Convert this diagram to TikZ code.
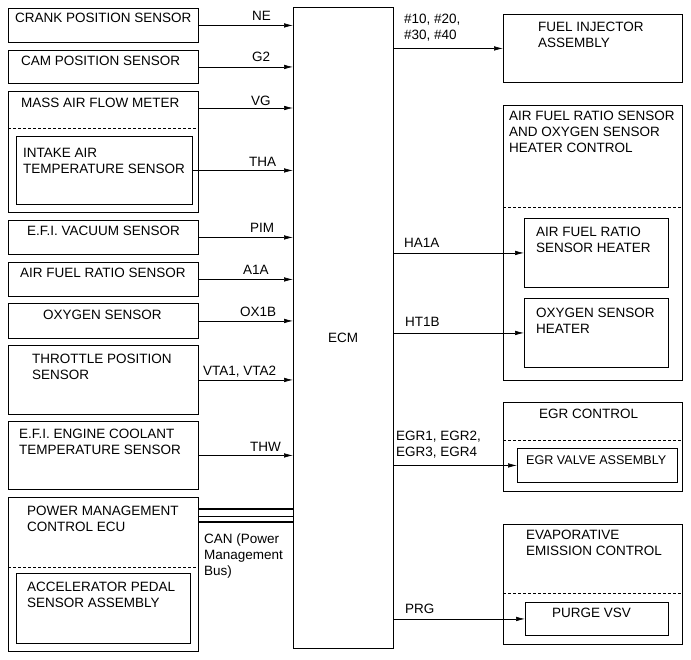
\documentclass[tikz,border=0pt]{standalone}
\usepackage{fontspec}
\setmainfont{Liberation Sans}
\usetikzlibrary{arrows.meta}
\newcommand{\ecmfont}{\fontsize{13.5}{16}\selectfont}

\begin{document}
\begin{tikzpicture}[x=1pt, y=-1pt,
    box/.style={draw, line width=0.9pt, inner sep=0pt, anchor=north west},
    txt/.style={font=\ecmfont, inner sep=0pt, anchor=base west, align=left},
    sig/.style={line width=0.6pt, -{Latex[length=9pt,width=4.5pt]}},
    sepline/.style={line width=0.7pt, dash pattern=on 3pt off 2pt},
    canbus/.style={line width=2.6pt}]
  \useasboundingbox (0,0) rectangle (691,660);
  % inputs (left column)
  \node[box, minimum width=190pt, minimum height=34pt] (crank) at (8,8) {};
  \node[box, minimum width=190pt, minimum height=33pt] (cam) at (8,50) {};
  \node[box, minimum width=190pt, minimum height=121pt] (maf) at (8,91) {};
  \node[box, minimum width=176pt, minimum height=68pt] (tha) at (16,136) {};
  \node[box, minimum width=190pt, minimum height=34pt] (vac) at (8,220) {};
  \node[box, minimum width=190pt, minimum height=34pt] (afs) at (8,262) {};
  \node[box, minimum width=190pt, minimum height=35pt] (oxs) at (8,303) {};
  \node[box, minimum width=190pt, minimum height=69pt] (tps) at (8,345) {};
  \node[box, minimum width=190pt, minimum height=68pt] (ect) at (8,421) {};
  \node[box, minimum width=190pt, minimum height=154pt] (pwr) at (8,497) {};
  \node[box, minimum width=174pt, minimum height=70pt] (app) at (16,573) {};
  \draw[sepline] (maf.west |- 0,128) -- (maf.east |- 0,128);
  \draw[sepline] (pwr.west |- 0,567) -- (pwr.east |- 0,567);
  % multi-line texts: base = last line
  \node[txt] (crank-t) at (15,23) {CRANK POSITION SENSOR};
  \node[txt] (cam-t) at (21,66) {CAM POSITION SENSOR};
  \node[txt] (maf-t) at (21,108) {MASS AIR FLOW METER};
  \node[txt] (tha-t) at (23,174) {INTAKE AIR\\TEMPERATURE SENSOR};
  \node[txt] (vac-t) at (27,236) {E.F.I. VACUUM SENSOR};
  \node[txt] (afs-t) at (20,278) {AIR FUEL RATIO SENSOR};
  \node[txt] (oxs-t) at (43,320) {OXYGEN SENSOR};
  \node[txt] (tps-t) at (32,379) {THROTTLE POSITION\\SENSOR};
  \node[txt] (ect-t) at (19,454) {E.F.I. ENGINE COOLANT\\TEMPERATURE SENSOR};
  \node[txt] (pwr-t) at (27,531) {POWER MANAGEMENT\\CONTROL ECU};
  \node[txt] (app-t) at (27,607) {ACCELERATOR PEDAL\\SENSOR ASSEMBLY};

  % ECM
  \node[box, minimum width=100pt, minimum height=641pt] (ecm) at (293,7) {};
  \node[font=\ecmfont, inner sep=0pt, anchor=base] (ecm-t) at (343,343) {ECM};

  % outputs (right column)
  \node[box, minimum width=179pt, minimum height=68pt] (inj) at (503,14) {};
  \node[box, minimum width=179pt, minimum height=275pt] (afc) at (503,105) {};
  \node[box, minimum width=144pt, minimum height=69pt] (afh) at (524,218) {};
  \node[box, minimum width=144pt, minimum height=69pt] (o2h) at (524,298) {};
  \node[box, minimum width=179pt, minimum height=89pt] (egr) at (503,402) {};
  \node[box, minimum width=160pt, minimum height=34pt] (egv) at (517,448) {};
  \node[box, minimum width=179pt, minimum height=120pt] (evp) at (503,524) {};
  \node[box, minimum width=143pt, minimum height=33pt] (prg) at (525,602) {};
  \draw[sepline] (afc.west |- 0,207) -- (afc.east |- 0,207);
  \draw[sepline] (egr.west |- 0,440) -- (egr.east |- 0,440);
  \draw[sepline] (evp.west |- 0,593) -- (evp.east |- 0,593);
  \node[txt] (inj-t) at (538,48) {FUEL INJECTOR\\ASSEMBLY};
  \node[txt] (afc-t) at (509,153) {AIR FUEL RATIO SENSOR\\AND OXYGEN SENSOR\\HEATER CONTROL};
  \node[txt] (afh-t) at (536,253) {AIR FUEL RATIO\\SENSOR HEATER};
  \node[txt] (o2h-t) at (536,334) {OXYGEN SENSOR\\HEATER};
  \node[txt] (egr-t) at (539,418) {EGR CONTROL};
  \node[txt, font=\fontsize{12.6}{16}\selectfont] (egv-t) at (526,464) {EGR VALVE ASSEMBLY};
  \node[txt] (evp-t) at (526,555) {EVAPORATIVE\\EMISSION CONTROL};
  \node[txt] (prg-t) at (552,617) {PURGE VSV};

  % signals into ECM
  \draw[sig] (crank.east) -- (crank.east -| ecm.west);
  \draw[sig] (cam.east) -- (cam.east -| ecm.west);
  \draw[sig] (maf.east |- 0,108) -- (ecm.west |- 0,108);
  \draw[sig] (tha.east) -- (tha.east -| ecm.west);
  \draw[sig] (vac.east) -- (vac.east -| ecm.west);
  \draw[sig] (afs.east) -- (afs.east -| ecm.west);
  \draw[sig] (oxs.east) -- (oxs.east -| ecm.west);
  \draw[sig] (tps.east) -- (tps.east -| ecm.west);
  \draw[sig] (ect.east) -- (ect.east -| ecm.west);
  \node[txt] (ne) at (252,21) {NE};
  \node[txt] (g2) at (252,62) {G2};
  \node[txt] (vg) at (251,106) {VG};
  \node[txt] (thai) at (249,167) {THA};
  \node[txt] (pim) at (250,233) {PIM};
  \node[txt] (a1a) at (243,275) {A1A};
  \node[txt] (ox1b) at (240,317) {OX1B};
  \node[txt] (vta) at (203,375) {VTA1, VTA2};
  \node[txt] (thw) at (250,451) {THW};

  % CAN bus
  \draw[canbus] (pwr.east |- 0,509) -- (ecm.west |- 0,509);
  \draw[line width=0.8pt] (pwr.east |- 0,516) -- (ecm.west |- 0,516);
  \draw[canbus] (pwr.east |- 0,522) -- (ecm.west |- 0,522);
  \node[txt] (can) at (204,575) {CAN (Power\\Management\\Bus)};

  % signals out of ECM
  \draw[sig] (ecm.east |- inj.west) -- (inj.west);
  \draw[sig] (ecm.east |- afh.west) -- (afh.west);
  \draw[sig] (ecm.east |- o2h.west) -- (o2h.west);
  \draw[sig] (ecm.east |- egv.west) -- (egv.west);
  \draw[sig] (ecm.east |- prg.west) -- (prg.west);
  \node[txt] (inj-s) at (404,40) {\#10, \#20,\\\#30, \#40};
  \node[txt] (ha1a) at (404,248) {HA1A};
  \node[txt] (ht1b) at (405,327) {HT1B};
  \node[txt] (egr-s) at (396,456) {EGR1, EGR2,\\EGR3, EGR4};
  \node[txt] (prg-s) at (405,613) {PRG};
\end{tikzpicture}
\end{document}
